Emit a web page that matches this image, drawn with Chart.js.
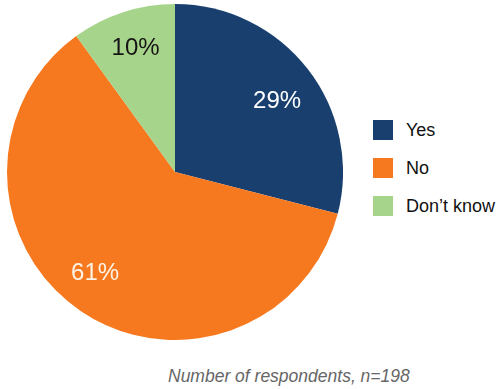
<!DOCTYPE html>
<html>
<head>
<meta charset="utf-8">
<script src="https://cdn.jsdelivr.net/npm/chart.js@4"></script>
<style>
  html, body { margin: 0; padding: 0; background: #fff; }
  body { width: 500px; height: 389px; position: relative; overflow: hidden; font-family: "Liberation Sans", Arial, sans-serif; }
  #wrap { position: absolute; left: 7px; top: 4px; width: 336px; height: 336px; }
  .legend { position: absolute; left: 373px; top: 120px; }
  .item { position: relative; height: 38px; }
  .sw { position: absolute; left: 0; top: 0; width: 20px; height: 20px; }
  .lt { position: absolute; left: 33px; top: 0; line-height: 20px; font-size: 18px; color: #111; white-space: nowrap; }
  .note { position: absolute; left: 168px; top: 366px; font-size: 17.5px; font-style: italic; color: #666; white-space: nowrap; }
</style>
</head>
<body>
<div id="wrap"><canvas id="c" width="336" height="336"></canvas></div>
<div class="legend" id="legend"></div>
<div class="note" id="note"></div>
<script>
const categories = ["Yes", "No", "Don\u2019t know"];
const values = [29, 61, 10];
const colors = ["#183f6e", "#f7791f", "#a7d48b"];
const labelColors = ["#ffffff", "#fdf3e6", "#151515"];
const labelRadius = [0.738, 0.769, 0.772];
const labelAngleShiftDeg = [3.2, 4.0, 0.3];
const footnote = "Number of respondents, n=198";

const labelPlugin = {
  id: "pctLabels",
  afterDatasetsDraw(chart) {
    const ctx = chart.ctx;
    const meta = chart.getDatasetMeta(0);
    ctx.save();
    ctx.font = '24px "Liberation Sans", Arial, sans-serif';
    ctx.textAlign = "center";
    ctx.textBaseline = "middle";
    meta.data.forEach((arc, i) => {
      const p = arc.getProps(["x", "y", "startAngle", "endAngle", "outerRadius"], true);
      const a = (p.startAngle + p.endAngle) / 2 + labelAngleShiftDeg[i] * Math.PI / 180;
      const r = p.outerRadius * labelRadius[i];
      ctx.fillStyle = labelColors[i];
      ctx.fillText(values[i] + "%", p.x + Math.cos(a) * r, p.y + Math.sin(a) * r);
    });
    ctx.restore();
  }
};

new Chart(document.getElementById("c"), {
  type: "pie",
  data: {
    labels: categories,
    datasets: [{ data: values, backgroundColor: colors, borderWidth: 0, hoverOffset: 0 }]
  },
  options: {
    responsive: false,
    animation: false,
    events: [],
    layout: { padding: 0 },
    plugins: { legend: { display: false }, tooltip: { enabled: false } }
  },
  plugins: [labelPlugin]
});

const lg = document.getElementById("legend");
categories.forEach((c, i) => {
  const d = document.createElement("div");
  d.className = "item";
  d.innerHTML = '<div class="sw" style="background:' + colors[i] + '"></div><div class="lt"></div>';
  d.querySelector(".lt").textContent = c;
  lg.appendChild(d);
});
document.getElementById("note").textContent = footnote;
</script>
</body>
</html>
